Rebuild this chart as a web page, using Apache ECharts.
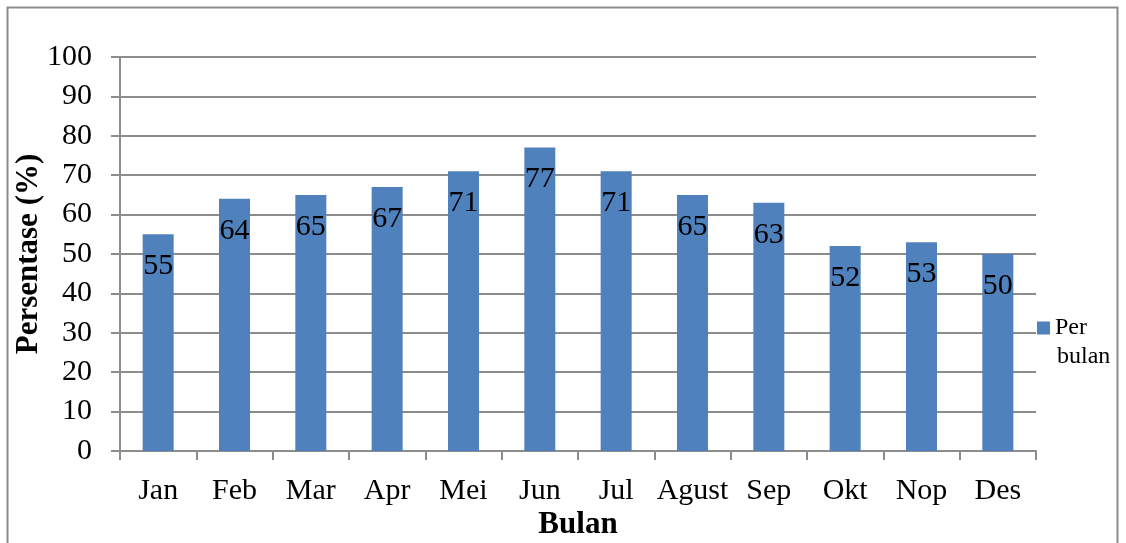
<!DOCTYPE html>
<html>
<head>
<meta charset="utf-8">
<script src="https://cdn.jsdelivr.net/npm/echarts@6/dist/echarts.min.js"></script>
<style>
  html, body { margin: 0; padding: 0; background: #fff; }
  #chart { width: 1126px; height: 543px; }
</style>
</head>
<body>
<div id="chart"></div>
<script>
// data
var months = ['Jan', 'Feb', 'Mar', 'Apr', 'Mei', 'Jun', 'Jul', 'Agust', 'Sep', 'Okt', 'Nop', 'Des'];
var perBulan = [55, 64, 65, 67, 71, 77, 71, 65, 63, 52, 53, 50];

var serif = '"Liberation Serif", "Times New Roman", serif';
var gray = '#8c8c8c';

var chart = echarts.init(document.getElementById('chart'));
chart.setOption({
    animation: false,
    textStyle: { fontFamily: serif },
    graphic: [{
        type: 'rect',
        shape: { x: 7.5, y: 7.5, width: 1110, height: 560 },
        style: { fill: 'none', stroke: gray, lineWidth: 2 },
        silent: true
    }, {
        // second line of the legend label
        type: 'text',
        left: 1057,
        top: 345,
        style: { text: 'bulan', font: '24px ' + serif, fill: '#000' },
        silent: true
    }],
    grid: { left: 120, right: 90, top: 57, bottom: 92, outerBoundsMode: 'none' },
    legend: {
        data: ['Per bulan'],
        left: 1037,
        top: 316,
        padding: 0,
        itemWidth: 13,
        itemHeight: 13,
        itemGap: 7,
        icon: 'rect',
        formatter: function () { return 'Per'; },
        textStyle: {
            fontFamily: serif,
            fontSize: 24,
            color: '#000',
            lineHeight: 24
        }
    },
    xAxis: {
        type: 'category',
        data: months,
        name: 'Bulan',
        nameLocation: 'middle',
        nameGap: 58,
        nameMoveOverlap: false,
        nameTextStyle: { fontFamily: serif, fontSize: 31, fontWeight: 'bold', color: '#000' },
        axisLine: { lineStyle: { color: gray, width: 2 } },
        axisTick: { show: true, length: 9, lineStyle: { color: gray, width: 2 } },
        axisLabel: { interval: 0, fontFamily: serif, fontSize: 30, color: '#000', margin: 25 }
    },
    yAxis: {
        type: 'value',
        min: 0,
        max: 100,
        interval: 10,
        name: 'Persentase (%)',
        nameLocation: 'middle',
        nameGap: 76,
        nameMoveOverlap: false,
        nameTextStyle: { fontFamily: serif, fontSize: 31, fontWeight: 'bold', color: '#000' },
        axisLine: { show: true, lineStyle: { color: gray, width: 2 } },
        axisTick: { show: true, length: 9, lineStyle: { color: gray, width: 2 } },
        axisLabel: { fontFamily: serif, fontSize: 30, color: '#000', margin: 28 },
        splitLine: { lineStyle: { color: gray, width: 2 } }
    },
    series: [{
        name: 'Per bulan',
        type: 'bar',
        data: perBulan,
        barWidth: 31,
        itemStyle: { color: '#4f81bd' },
        label: {
            show: true,
            position: 'insideTop',
            distance: 17,
            fontFamily: serif,
            fontSize: 30,
            color: '#000'
        }
    }]
});
</script>
</body>
</html>
